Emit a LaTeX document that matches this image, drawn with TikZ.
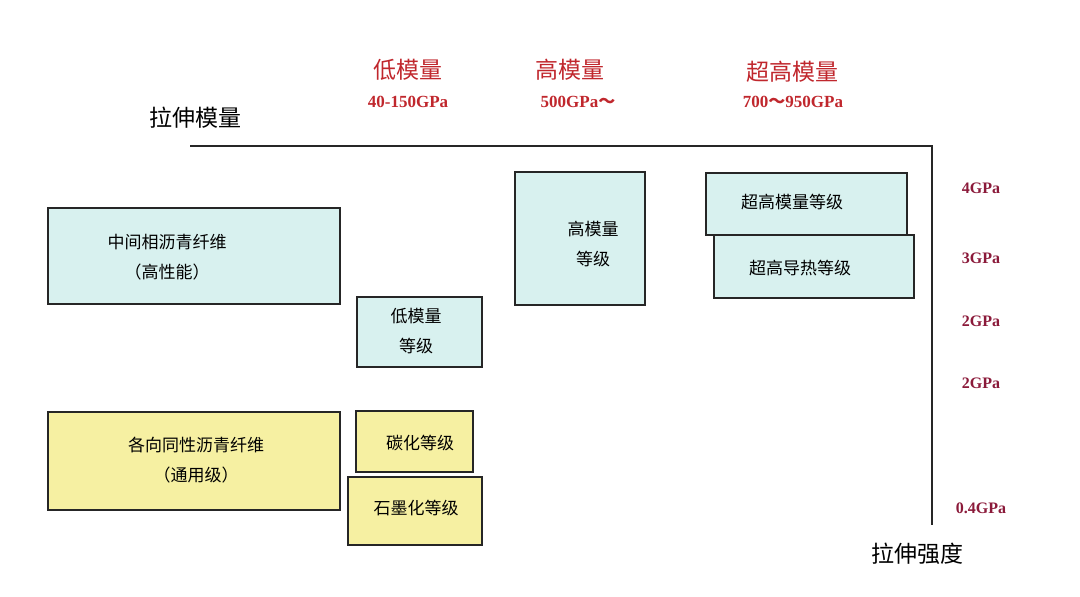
\documentclass[tikz,border=0pt]{standalone}
\usepackage{fontspec}
\setmainfont{Liberation Serif}
\newfontfamily\cjk{Noto Sans CJK SC}
\usetikzlibrary{positioning}
\definecolor{cyanfill}{HTML}{D8F1EF}
\definecolor{yellowfill}{HTML}{F6F0A2}
\definecolor{topred}{HTML}{C0272D}
\definecolor{sidered}{HTML}{8B1A3A}
\tikzset{
  gradebox/.style = {draw=black!85, line width=2.5pt, inner sep=0pt},
  cyanbox/.style = {gradebox, fill=cyanfill},
  yellowbox/.style = {gradebox, fill=yellowfill},
  boxtext/.style = {font=\cjk\fontsize{17}{30}\selectfont, align=center},
  toplabel/.style = {text=topred, font=\cjk\fontsize{23}{26}\selectfont},
  topvalue/.style = {text=topred, font=\bfseries\fontsize{17}{20}\selectfont},
  sidevalue/.style = {text=sidered, font=\bfseries\fontsize{16}{18}\selectfont},
  axislabel/.style = {font=\cjk\fontsize{23}{26}\selectfont}
}
\begin{document}
\begin{tikzpicture}[x=1pt,y=-1pt]
  \useasboundingbox (0,0) rectangle (1080,597);

  % boxes
  \draw[cyanbox] (48,208) rectangle (340,304);
  \draw[cyanbox] (357,297) rectangle (482,367);
  \draw[cyanbox] (515,172) rectangle (645,305);
  \draw[cyanbox] (714,235) rectangle (914,298);
  \draw[cyanbox] (706,173) rectangle (907,235);
  \draw[yellowbox] (48,412) rectangle (340,510);
  \draw[yellowbox] (356,411) rectangle (473,472);
  \draw[yellowbox] (348,477) rectangle (482,545);

  \node[boxtext] (meso) at (167,257) {中间相沥青纤维\\（高性能）};
  \node[boxtext] (lowgrade) at (416,331) {低模量\\等级};
  \node[boxtext] (highgrade) at (593,244) {高模量\\等级};
  \node[boxtext] (uhmgrade) at (792,202) {超高模量等级};
  \node[boxtext] (uhtgrade) at (800,268) {超高导热等级};
  \node[boxtext] (iso) at (196,460) {各向同性沥青纤维\\（通用级）};
  \node[boxtext] (carb) at (420,443) {碳化等级};
  \node[boxtext] (graph) at (416,508) {石墨化等级};

  % axes
  \coordinate (ystart) at (190,146);
  \coordinate (corner) at (932,146);
  \coordinate (yend) at (932,525);
  \draw[line width=2.5pt, black!85] (ystart) -- (corner) -- (yend);
  \node[axislabel] (modlabel) at (195,118) {拉伸模量};
  \node[axislabel] (strlabel) at (917,554) {拉伸强度};

  % top labels
  \node[toplabel] (low) at (408,70) {低模量};
  \node[topvalue] (lowv) at (408,102) {40-150GPa};
  \node[toplabel] (high) at (570,70) {高模量};
  \node[topvalue] (highv) at (578,102) {500GPa{\cjk ～}};
  \node[toplabel] (uhigh) at (792,72) {超高模量};
  \node[topvalue] (uhighv) at (793,102) {700{\cjk ～}950GPa};

  % right labels
  \node[sidevalue] (s4) at (981,188) {4GPa};
  \node[sidevalue] (s3) at (981,258) {3GPa};
  \node[sidevalue] (s2a) at (981,321) {2GPa};
  \node[sidevalue] (s2b) at (981,383) {2GPa};
  \node[sidevalue] (s04) at (981,508) {0.4GPa};
\end{tikzpicture}
\end{document}
